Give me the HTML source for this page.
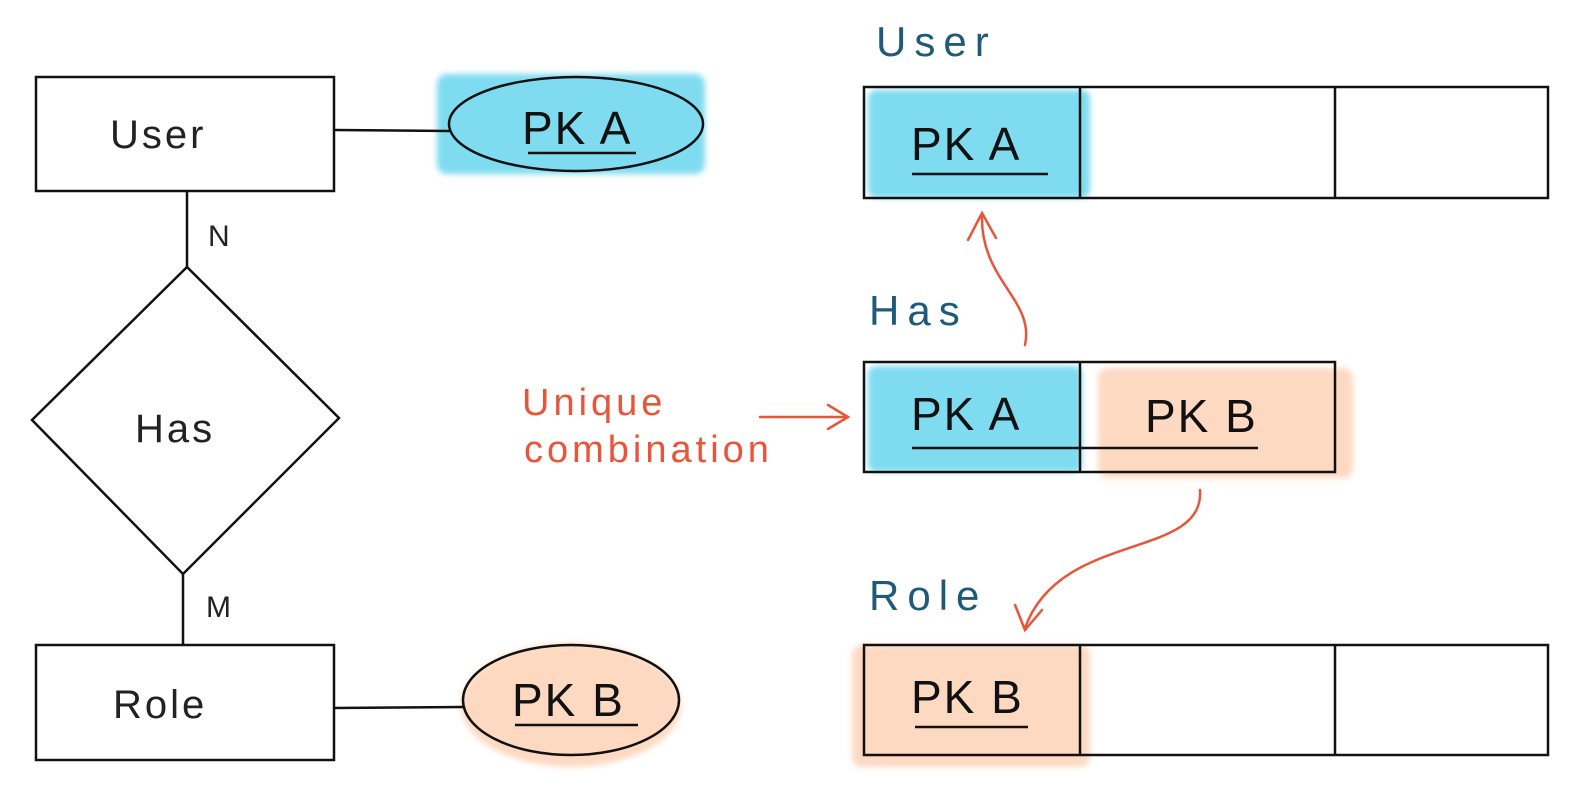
<!DOCTYPE html>
<html><head><meta charset="utf-8"><style>
html,body{margin:0;padding:0;background:#fff;}
svg{display:block;}
text{font-family:"Liberation Sans",sans-serif;}
</style></head><body>
<svg width="1571" height="799" viewBox="0 0 1571 799" xmlns="http://www.w3.org/2000/svg">
<defs>
<filter id="soft" x="-10%" y="-10%" width="120%" height="120%"><feGaussianBlur stdDeviation="3"/></filter>
</defs>
<g filter="url(#soft)">
<rect x="437" y="74" width="268" height="100" rx="10" fill="#7fdcf0"/>
<ellipse cx="571" cy="705" rx="110" ry="62" fill="#fdd9c2"/>
<rect x="868" y="90" width="222" height="108" rx="8" fill="#7fdcf0"/>
<rect x="868" y="366" width="214" height="106" rx="8" fill="#7fdcf0"/>
<rect x="1098" y="368" width="255" height="110" rx="10" fill="#fdd9c2"/>
<rect x="852" y="645" width="238" height="122" rx="10" fill="#fdd9c2"/>
</g>
<g stroke="#111" stroke-width="2.5" fill="none">
<rect x="36" y="77" width="298" height="114"/>
<line x1="334" y1="130" x2="450" y2="131"/>
<ellipse cx="576" cy="124" rx="127" ry="47"/>
<line x1="187" y1="191" x2="187" y2="267"/>
<polygon points="187,267 339,418 183,574 32,420"/>
<line x1="183" y1="574" x2="183" y2="645"/>
<rect x="36" y="645" width="298" height="115"/>
<line x1="334" y1="708" x2="463" y2="707"/>
<ellipse cx="571" cy="700" rx="108" ry="55"/>
<rect x="864" y="87" width="684" height="111"/>
<line x1="1080" y1="87" x2="1080" y2="198"/>
<line x1="1335" y1="87" x2="1335" y2="198"/>
<rect x="864" y="362" width="471" height="110"/>
<line x1="1080" y1="362" x2="1080" y2="472"/>
<rect x="864" y="645" width="684" height="110"/>
<line x1="1080" y1="645" x2="1080" y2="755"/>
<line x1="1335" y1="645" x2="1335" y2="755"/>
<line x1="528" y1="153" x2="636" y2="153"/>
<line x1="515" y1="725" x2="638" y2="725"/>
<line x1="912" y1="174" x2="1048" y2="174"/>
<line x1="912" y1="448" x2="1258" y2="448"/>
<line x1="915" y1="727" x2="1028" y2="727"/>
</g>
<g stroke="#e8553a" stroke-width="2.5" fill="none" stroke-linecap="round">
<path d="M1025,345 C1035,300 980,280 982,215"/>
<path d="M968,240 L982,213 L996,238"/>
<line x1="760" y1="417" x2="848" y2="417"/>
<path d="M828,405 L848,417 L828,429"/>
<path d="M1200,490 C1205,560 1060,530 1025,628"/>
<path d="M1015,605 L1025,630 L1042,610"/>
</g>
<g font-size="40" fill="#222" letter-spacing="3">
<text x="110" y="148">User</text>
<text x="135" y="442">Has</text>
<text x="113" y="718">Role</text>
</g>
<g font-size="30" fill="#222">
<text x="208" y="246">N</text>
<text x="206" y="617">M</text>
</g>
<g font-size="46" fill="#111" letter-spacing="2">
<text x="522" y="144">PK A</text>
<text x="512" y="716">PK B</text>
<text x="911" y="160">PK A</text>
<text x="911" y="430">PK A</text>
<text x="1145" y="432">PK B</text>
<text x="911" y="713">PK B</text>
</g>
<g font-size="42" fill="#1e5a7a" letter-spacing="8">
<text x="876" y="56">User</text>
<text x="869" y="325">Has</text>
<text x="869" y="610">Role</text>
</g>
<g font-size="38" fill="#e8553a" letter-spacing="4">
<text x="522" y="415">Unique</text>
<text x="524" y="462">combination</text>
</g>
</svg>
</body></html>
